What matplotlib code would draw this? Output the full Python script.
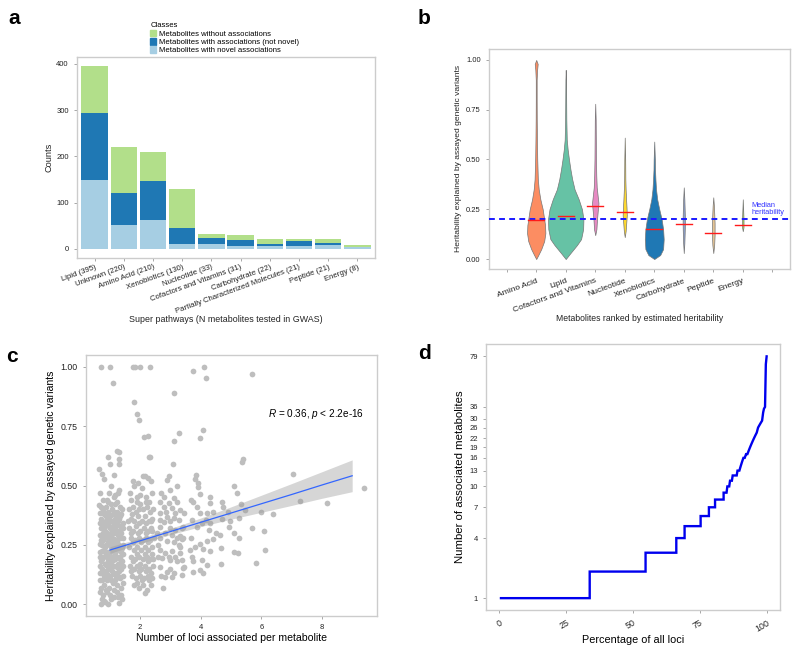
import numpy as np
import matplotlib
matplotlib.use("Agg")
import matplotlib.pyplot as plt
from matplotlib.patches import Patch

plt.rcParams['font.family'] = ['Liberation Sans', 'DejaVu Sans']
plt.rcParams['mathtext.fontset'] = 'custom'
plt.rcParams['mathtext.rm'] = 'Liberation Sans'
plt.rcParams['mathtext.it'] = 'Liberation Sans:italic'

# ---------------- Panel a data ----------------
a_categories = ['Lipid (395)', 'Unknown (220)', 'Amino Acid (210)', 'Xenobiotics (130)',
                'Nucleotide (33)', 'Cofactors and Vitamins (31)', 'Carbohydrate (22)',
                'Partially Characterized Molecules (21)', 'Peptide (21)', 'Energy (8)']
a_novel = [148, 52, 62, 10, 10, 7, 7, 7, 8, 5]
a_not_novel = [145, 68, 84, 36, 13, 12, 4, 10, 5, 0]
a_without = [102, 100, 64, 84, 10, 12, 11, 4, 8, 3]
a_classes = ['Metabolites without associations',
             'Metabolites with associations (not novel)',
             'Metabolites with novel associations']
a_colors = ['#b2df8a', '#1f78b4', '#a6cee3']

# ---------------- Panel b data ----------------
b_categories = ['Amino Acid', 'Lipid', 'Cofactors and Vitamins', 'Nucleotide',
                'Xenobiotics', 'Carbohydrate', 'Peptide', 'Energy']
b_colors = ['#fc8d62', '#66c2a5', '#e78ac3', '#ffd92f', '#1f78b4', '#8da0cb', '#e5c494', '#a6d854']
b_medians = [0.195, 0.215, 0.267, 0.235, 0.15, 0.175, 0.13, 0.17]
b_overall_median = 0.2
# violin outlines: heights and half-widths (category units)
b_prof_y = [
    [0, 0.02, 0.05, 0.09, 0.13, 0.17, 0.2, 0.25, 0.3, 0.35, 0.4, 0.5, 0.6, 0.7, 0.8, 0.9, 0.95, 0.98, 1.0],
    [0, 0.03, 0.07, 0.1, 0.15, 0.2, 0.25, 0.3, 0.35, 0.4, 0.45, 0.5, 0.55, 0.6, 0.7, 0.8, 0.9, 0.95],
    [0.12, 0.15, 0.2, 0.25, 0.28, 0.32, 0.36, 0.42, 0.5, 0.6, 0.7, 0.78],
    [0.11, 0.14, 0.18, 0.22, 0.26, 0.3, 0.35, 0.4, 0.5, 0.61],
    [0, 0.02, 0.05, 0.1, 0.15, 0.2, 0.25, 0.3, 0.35, 0.4, 0.45, 0.5, 0.59],
    [0.03, 0.08, 0.15, 0.2, 0.25, 0.3, 0.36],
    [0.03, 0.07, 0.12, 0.18, 0.22, 0.27, 0.31],
    [0.14, 0.16, 0.2, 0.24, 0.3],
]
b_prof_w = [
    [0, 0.07, 0.17, 0.27, 0.31, 0.3, 0.27, 0.22, 0.14, 0.085, 0.055, 0.035, 0.025, 0.018, 0.015, 0.015, 0.03, 0.05, 0.0],
    [0, 0.16, 0.38, 0.52, 0.59, 0.6, 0.55, 0.44, 0.3, 0.22, 0.16, 0.11, 0.066, 0.035, 0.02, 0.015, 0.01, 0],
    [0, 0.04, 0.06, 0.09, 0.11, 0.08, 0.05, 0.035, 0.025, 0.02, 0.015, 0],
    [0, 0.03, 0.05, 0.07, 0.06, 0.045, 0.03, 0.02, 0.015, 0],
    [0, 0.2, 0.3, 0.32, 0.3, 0.25, 0.17, 0.1, 0.06, 0.04, 0.025, 0.02, 0],
    [0, 0.02, 0.035, 0.04, 0.03, 0.02, 0],
    [0, 0.03, 0.045, 0.045, 0.035, 0.02, 0],
    [0, 0.025, 0.025, 0.015, 0],
]

# ---------------- Panel c data ----------------
c_points = [
    # sparse / upper points
    (0.70, 1.0), (0.99, 1.0), (1.76, 1.0), (1.84, 1.0), (1.98, 1.0), (2.33, 1.0), (4.11, 1.0),
    (1.10, 0.934), (3.73, 0.983), (4.17, 0.955), (5.69, 0.972), (3.10, 0.89), (1.81, 0.85),
    (1.91, 0.80), (1.95, 0.776), (2.11, 0.705), (2.27, 0.708), (4.07, 0.733), (3.96, 0.70),
    (3.27, 0.722), (3.12, 0.687), (2.31, 0.62), (3.08, 0.59), (5.36, 0.60), (5.38, 0.613),
    (1.23, 0.645), (1.30, 0.64), (0.95, 0.62), (1.31, 0.61), (1.01, 0.59), (1.31, 0.59),
    (0.64, 0.57), (0.73, 0.55), (0.81, 0.527), (1.12, 0.543), (0.64, 0.418),
    (7.05, 0.548), (9.38, 0.49), (8.17, 0.425), (7.29, 0.435), (6.39, 0.38), (6.11, 0.23),
    (5.81, 0.175), (6.10, 0.31), (6.00, 0.39), (5.69, 0.32), (5.09, 0.50), (5.20, 0.467),
    (5.26, 0.362), (5.33, 0.42), (5.47, 0.397), (5.09, 0.30), (5.25, 0.28), (5.09, 0.22),
    (5.23, 0.215), (4.98, 0.35), (4.73, 0.41), (4.70, 0.43), (4.70, 0.36), (4.64, 0.29),
    (4.68, 0.235), (4.67, 0.17), (4.90, 0.39), (4.92, 0.327),
    # column ~4
    (3.84, 0.544), (3.80, 0.526), (3.90, 0.51), (3.91, 0.495), (3.96, 0.464), (4.29, 0.453),
    (4.29, 0.425), (3.67, 0.44), (3.76, 0.432), (3.87, 0.41), (3.98, 0.383), (4.20, 0.386),
    (4.42, 0.39), (4.18, 0.355), (4.31, 0.341), (3.71, 0.355), (3.87, 0.327), (4.04, 0.341),
    (4.26, 0.313), (4.51, 0.30), (4.42, 0.273), (4.20, 0.268), (3.98, 0.254), (3.82, 0.24),
    (3.63, 0.229), (4.09, 0.231), (4.29, 0.222), (3.71, 0.198), (3.76, 0.18), (4.04, 0.184),
    (4.20, 0.165), (3.98, 0.144), (3.76, 0.137), (4.09, 0.13), (3.67, 0.278), (3.41, 0.327),
    (3.38, 0.273), (3.41, 0.151), (3.38, 0.123),
    # column ~3
    (2.94, 0.54), (2.88, 0.523), (2.97, 0.48), (2.77, 0.453), (3.10, 0.446), (3.21, 0.432),
    (2.64, 0.432), (2.80, 0.411), (3.05, 0.404), (3.32, 0.397), (3.43, 0.383), (2.66, 0.383),
    (2.88, 0.369), (3.10, 0.362), (3.27, 0.355), (2.77, 0.348), (2.66, 0.327), (2.99, 0.32),
    (3.16, 0.313), (3.38, 0.32), (2.83, 0.299), (3.05, 0.292), (3.32, 0.288), (2.66, 0.278),
    (2.88, 0.264), (3.10, 0.26), (3.27, 0.25), (2.64, 0.229), (2.83, 0.215), (3.05, 0.222),
    (3.32, 0.215), (2.72, 0.194), (2.99, 0.187), (3.21, 0.18), (3.43, 0.158), (2.66, 0.158),
    (2.88, 0.137), (3.10, 0.13), (2.83, 0.116), (3.05, 0.116), (2.75, 0.067), (3.38, 0.187),
    (2.66, 0.355), (2.55, 0.30), (2.94, 0.425), (3.16, 0.383),
    (2.70, 0.47), (3.20, 0.50), (2.60, 0.25), (3.00, 0.35), (3.20, 0.28), (2.95, 0.20),
    (3.15, 0.20), (2.70, 0.12), (2.97, 0.15), (3.30, 0.24), (2.60, 0.20), (3.40, 0.28),
    (2.85, 0.39),
    # column ~2
    (1.65, 0.47), (1.80, 0.50), (1.92, 0.51), (2.05, 0.49), (2.15, 0.54), (2.25, 0.53),
    (2.35, 0.52), (1.70, 0.44), (1.88, 0.45), (2.00, 0.46), (2.20, 0.45), (2.38, 0.47),
    (1.62, 0.40), (1.75, 0.41), (1.85, 0.39), (1.98, 0.42), (2.10, 0.40), (2.22, 0.41),
    (2.32, 0.39), (2.42, 0.40), (1.68, 0.36), (1.80, 0.35), (1.93, 0.37), (2.05, 0.35),
    (2.15, 0.37), (2.28, 0.35), (2.40, 0.36), (1.63, 0.32), (1.75, 0.31), (1.87, 0.33),
    (2.00, 0.31), (2.12, 0.32), (2.25, 0.31), (2.36, 0.32), (1.70, 0.28), (1.82, 0.27),
    (1.95, 0.28), (2.08, 0.27), (2.20, 0.28), (2.32, 0.27), (2.44, 0.28), (1.64, 0.24),
    (1.78, 0.23), (1.90, 0.24), (2.02, 0.23), (2.15, 0.24), (2.27, 0.23), (2.40, 0.24),
    (1.70, 0.20), (1.83, 0.19), (1.96, 0.20), (2.10, 0.19), (2.22, 0.20), (2.34, 0.19),
    (1.65, 0.16), (1.78, 0.15), (1.90, 0.16), (2.04, 0.15), (2.17, 0.16), (2.30, 0.15),
    (2.42, 0.16), (1.72, 0.12), (1.85, 0.11), (1.98, 0.12), (2.12, 0.11), (2.25, 0.12),
    (2.38, 0.11), (1.80, 0.08), (1.95, 0.07), (2.10, 0.08), (2.22, 0.06), (2.35, 0.08),
    (2.17, 0.045), (1.75, 0.52), (2.28, 0.62), (2.10, 0.54),
    (1.72, 0.38), (1.95, 0.40), (2.18, 0.43), (2.30, 0.43), (1.90, 0.43), (1.60, 0.35),
    (1.97, 0.34), (2.20, 0.34), (2.35, 0.35), (1.68, 0.30), (1.93, 0.30), (2.18, 0.30),
    (2.40, 0.31), (1.76, 0.26), (2.02, 0.26), (2.26, 0.26), (1.88, 0.21), (2.15, 0.21),
    (2.40, 0.21), (1.75, 0.18), (2.00, 0.17), (2.26, 0.18), (1.70, 0.14), (1.95, 0.14),
    (2.20, 0.14), (2.35, 0.13), (1.88, 0.09), (2.05, 0.10), (2.30, 0.10), (2.43, 0.19),
    # column ~1 (dense)
    (0.72, 0.0), (0.85, 0.01), (0.95, 0.0), (1.05, 0.02), (1.30, 0.005), (1.40, 0.02),
    (0.78, 0.04), (1.15, 0.03), (1.22, 0.05), (0.90, 0.05), (0.70, 0.07), (0.82, 0.08),
    (0.98, 0.07), (1.10, 0.09), (1.25, 0.08), (1.38, 0.07), (0.75, 0.10), (0.92, 0.10),
    (1.18, 0.10), (1.32, 0.11), (0.68, 0.13), (0.80, 0.12), (0.88, 0.14), (1.00, 0.12),
    (1.08, 0.14), (1.20, 0.13), (1.30, 0.14), (1.42, 0.12), (0.74, 0.15), (1.12, 0.16),
    (0.70, 0.18), (0.83, 0.17), (0.95, 0.18), (1.05, 0.17), (1.17, 0.19), (1.28, 0.17),
    (1.40, 0.18), (0.77, 0.20), (0.90, 0.20), (1.22, 0.20), (0.68, 0.22), (0.80, 0.23),
    (0.93, 0.22), (1.02, 0.24), (1.13, 0.22), (1.25, 0.23), (1.36, 0.22), (0.74, 0.25),
    (0.88, 0.25), (1.18, 0.25), (1.42, 0.25), (0.70, 0.27), (0.82, 0.28), (0.96, 0.27),
    (1.07, 0.28), (1.20, 0.27), (1.32, 0.28), (0.76, 0.30), (0.90, 0.30), (1.02, 0.30),
    (1.15, 0.30), (1.27, 0.31), (1.38, 0.30), (0.69, 0.32), (0.84, 0.33), (0.97, 0.33),
    (1.10, 0.33), (1.22, 0.34), (1.34, 0.33), (0.75, 0.35), (0.90, 0.36), (1.05, 0.35),
    (1.17, 0.36), (1.30, 0.36), (0.80, 0.38), (0.95, 0.39), (1.10, 0.38), (1.25, 0.39),
    (1.38, 0.38), (0.70, 0.41), (0.88, 0.41), (1.02, 0.42), (1.18, 0.42), (1.32, 0.41),
    (0.78, 0.44), (1.12, 0.45), (1.28, 0.47), (1.30, 0.48), (0.86, 0.06), (1.00, 0.04),
    (1.35, 0.04), (0.75, 0.02), (1.20, 0.11), (0.95, 0.15), (1.33, 0.16), (0.86, 0.21),
    (1.08, 0.20), (1.32, 0.20), (0.99, 0.25), (1.30, 0.25), (0.85, 0.31), (1.24, 0.30),
    (0.92, 0.34), (1.42, 0.34), (1.00, 0.37), (1.20, 0.37), (0.70, 0.36), (0.90, 0.44),
    (0.66, 0.05), (0.80, 0.015), (1.12, 0.06), (1.28, 0.03), (1.44, 0.09), (0.66, 0.10),
    (0.86, 0.11), (1.05, 0.10), (1.26, 0.12), (1.38, 0.15), (0.78, 0.135), (0.92, 0.125),
    (1.14, 0.125), (0.66, 0.16), (0.88, 0.165), (1.00, 0.155), (1.22, 0.155), (1.44, 0.16),
    (0.74, 0.19), (0.99, 0.195), (1.10, 0.185), (1.34, 0.19), (0.66, 0.20), (0.96, 0.21),
    (1.18, 0.215), (1.42, 0.21), (0.73, 0.225), (1.07, 0.225), (1.30, 0.235), (0.84, 0.24),
    (1.13, 0.245), (1.40, 0.235), (0.66, 0.255), (0.93, 0.26), (1.07, 0.26), (1.24, 0.26),
    (0.77, 0.27), (1.14, 0.275), (1.42, 0.28), (0.68, 0.29), (0.88, 0.285), (1.00, 0.285),
    (1.26, 0.29), (0.80, 0.305), (1.10, 0.31), (1.34, 0.31), (0.74, 0.325), (1.00, 0.32),
    (1.16, 0.325), (1.42, 0.32), (0.82, 0.345), (1.12, 0.35), (1.26, 0.35), (0.66, 0.34),
    (0.86, 0.37), (1.15, 0.39), (1.32, 0.37), (0.76, 0.395), (1.06, 0.40), (1.40, 0.40),
    (0.66, 0.385), (0.93, 0.43), (1.25, 0.43), (0.98, 0.47), (1.18, 0.46), (1.05, 0.50),
    (0.66, 0.47),
]
c_fit_x = [1, 2, 3, 4, 5, 6, 7, 8, 9]
c_fit_y = [0.228, 0.267, 0.306, 0.345, 0.384, 0.423, 0.462, 0.502, 0.541]
c_fit_lo = [0.214, 0.256, 0.293, 0.327, 0.358, 0.387, 0.416, 0.446, 0.474]
c_fit_hi = [0.242, 0.278, 0.319, 0.363, 0.410, 0.459, 0.508, 0.558, 0.608]
c_annot = r'$R$ = 0.36, $p$ < 2.2e-16'

# ---------------- Panel d data ----------------
d_pct = [0.6, 33.8, 33.8, 54.7, 54.7, 66.2, 66.2, 69.3, 69.3, 75.3, 75.3, 78.4, 78.4, 80.7,
         80.7, 83.9, 83.9, 85.0, 85.3, 86.0, 86.3, 87.0, 87.3, 88.8, 89.1, 89.8, 90.3, 90.8,
         91.3, 91.8, 92.3, 92.8, 93.3, 93.8, 94.3, 94.8, 95.3, 95.8, 96.3, 96.8, 97.3, 97.8,
         98.3, 98.7, 99.0, 99.4, 99.7, 100.0]
d_val = [1, 1, 2, 2, 3, 3, 4, 4, 5, 5, 6, 6, 7, 7,
         8, 8, 9, 9, 10, 10, 11, 11, 12, 12, 13, 13, 14, 15,
         16, 16, 17, 17, 18, 19, 20, 21, 22, 23, 24, 26, 27, 28,
         29, 33, 35, 36, 70, 79]
d_yticks = [1, 4, 7, 10, 13, 16, 19, 22, 26, 30, 36, 79]
d_xticks = [0, 25, 50, 75, 100]

# ---------------- styling helpers ----------------
FRAME = '#cccccc'
TICKC = '#999999'
TXT = '#222222'


def style(ax, lab=6):
    for s in ax.spines.values():
        s.set_color(FRAME)
        s.set_linewidth(1.0)
    ax.tick_params(colors=TICKC, length=2.5, width=0.6, labelsize=lab, labelcolor=TXT)


fig = plt.figure(figsize=(8, 6.5), dpi=100)


def fax(l, t, r, b):
    W, H = 800, 650
    return fig.add_axes([l / W, 1 - b / H, (r - l) / W, (b - t) / H])


# ================= Panel a =================
ax = fax(77, 57, 375, 258)
style(ax, 5.5)
x = np.arange(len(a_categories))
nov = np.array(a_novel)
nn = np.array(a_not_novel)
wo = np.array(a_without)
ax.bar(x, nov, width=0.9, color=a_colors[2], label=a_classes[2])
ax.bar(x, nn, width=0.9, bottom=nov, color=a_colors[1], label=a_classes[1])
ax.bar(x, wo, width=0.9, bottom=nov + nn, color=a_colors[0], label=a_classes[0])
ax.set_xlim(-0.6, len(a_categories) - 0.4)
ax.set_ylim(-19.75, 414.75)
ax.set_yticks([0, 100, 200, 300, 400])
ax.set_xticks(x)
ax.set_xticklabels(a_categories, rotation=20, ha='right', rotation_mode='anchor', fontsize=5.6)
ax.tick_params(axis='x', pad=1.5)
ax.set_ylabel('Counts', fontsize=6.6, color=TXT, labelpad=2)
ax.set_xlabel('Super pathways (N metabolites tested in GWAS)', fontsize=6.4, color=TXT, labelpad=0)
handles = [Patch(color=a_colors[i]) for i in range(3)]
leg = fig.legend(handles, a_classes, loc='upper left', bbox_to_anchor=(145 / 800, 1 - 17 / 650),
                 title='Classes', fontsize=5.6, title_fontsize=5.5, frameon=False,
                 handlelength=0.7, handleheight=0.9, labelspacing=0.05, handletextpad=0.4,
                 borderpad=0.2, alignment='left')

# ================= Panel b =================
ax = fax(489, 49, 790, 269)
style(ax, 5.5)
for i, cat in enumerate(b_categories):
    pos = i + 1
    yy = np.array(b_prof_y[i])
    ww = np.array(b_prof_w[i])
    ax.fill_betweenx(yy, pos - ww, pos + ww, facecolor=b_colors[i], edgecolor='#777777',
                     linewidth=0.5, zorder=2)
    ax.plot([pos - 0.27, pos + 0.27], [b_medians[i]] * 2, color='#ff1a1a', lw=1.0, zorder=4)
ax.axhline(b_overall_median, color='#1a1aff', lw=1.4, ls=(0, (3, 2.2)), zorder=3)
ax.text(8.3, 0.27, 'Median', color='#3333ff', fontsize=5.3, va='center', ha='left')
ax.text(8.3, 0.235, 'heritability', color='#3333ff', fontsize=5.3, va='center', ha='left')
ax.set_xlim(-0.6, 9.6)
ax.set_ylim(-0.05, 1.055)
ax.set_yticks([0, 0.25, 0.5, 0.75, 1.0])
ax.set_yticklabels(['0.00', '0.25', '0.50', '0.75', '1.00'])
ax.set_xticks(range(0, 10))
ax.set_xticklabels([''] + b_categories + [''], rotation=20, ha='right', rotation_mode='anchor',
                   fontsize=6.1)
ax.set_ylabel('Heritability explained by assayed genetic variants', fontsize=6.1, color=TXT, labelpad=3)
ax.set_xlabel('Metabolites ranked by estimated heritability', fontsize=6.2, color=TXT, labelpad=0)

# ================= Panel c =================
ax = fax(86, 355, 377, 616)
style(ax, 6.3)
cx = [p[0] for p in c_points]
cy = [p[1] for p in c_points]
ax.scatter(cx, cy, s=17, color='#bebebe', linewidths=0, zorder=2)
ax.fill_between(c_fit_x, c_fit_lo, c_fit_hi, color='#999999', alpha=0.4, linewidth=0, zorder=3)
ax.plot(c_fit_x, c_fit_y, color='#3366ff', lw=0.9, zorder=4)
ax.text(9.4, 0.80, c_annot, fontsize=7.2, ha='right', va='center', color='black')
ax.set_xlim(0.21, 9.82)
ax.set_ylim(-0.05, 1.05)
ax.set_xticks([2, 4, 6, 8])
ax.set_yticks([0, 0.25, 0.5, 0.75, 1.0])
ax.set_yticklabels(['0.00', '0.25', '0.50', '0.75', '1.00'])
ax.tick_params(axis='x', labelsize=5.5)
ax.set_ylabel('Heritability explained by assayed genetic variants', fontsize=7.6, color='black', labelpad=3)
ax.set_xlabel('Number of loci associated per metabolite', fontsize=7.6, color='black', labelpad=1)

# ================= Panel d =================
ax = fax(486, 344, 780, 610)
style(ax, 5.5)
ax.set_yscale('function', functions=(lambda v: np.log10(np.asarray(v) + 1.0),
                                     lambda t: 10 ** np.asarray(t) - 1.0))
ax.plot(d_pct, d_val, color='#0000ee', lw=1.7, solid_joinstyle='miter', zorder=3)
ax.set_xlim(-5, 105)
ax.set_ylim(10 ** 0.2225 - 1, 10 ** 1.985 - 1)
ax.set_yticks(d_yticks)
ax.set_yticklabels([str(v) for v in d_yticks])
ax.yaxis.set_minor_locator(matplotlib.ticker.NullLocator())
ax.set_xticks(d_xticks)
ax.set_xticklabels([str(v) for v in d_xticks], rotation=30, ha='right', rotation_mode='anchor', fontsize=6.4)
ax.set_ylabel('Number of associated metabolites', fontsize=8.2, color='black', labelpad=3)
ax.set_xlabel('Percentage of all loci', fontsize=7.8, color='black', labelpad=1)

# panel letters
for lab, (px, py) in {'a': (8, 18), 'b': (418, 18), 'c': (6, 357), 'd': (418, 353)}.items():
    fig.text(px / 800, 1 - py / 650, lab, fontsize=15, fontweight='bold', va='center', ha='left')

fig.savefig('out.png', dpi=100)
